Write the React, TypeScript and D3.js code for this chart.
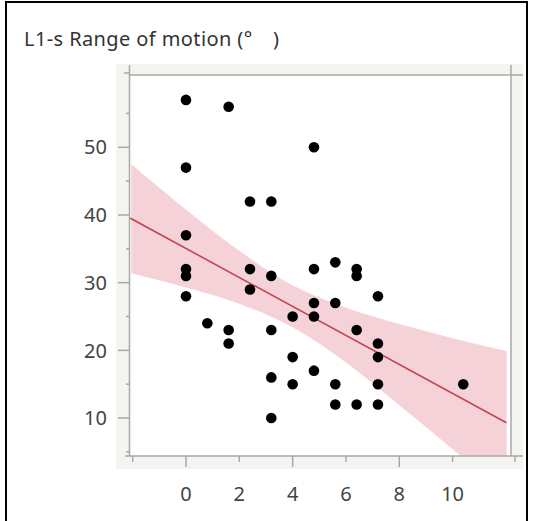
import React from 'react';
import * as d3 from 'd3';

// scatter points, grouped by x value
const xVals = [0, 0, 0, 0, 0, 0, 0.8, 1.6, 1.6, 1.6, 2.4, 2.4, 2.4, 3.2, 3.2, 3.2, 3.2, 3.2, 4.0, 4.0, 4.0, 4.8, 4.8, 4.8, 4.8, 4.8, 5.6, 5.6, 5.6, 5.6, 6.4, 6.4, 6.4, 6.4, 7.2, 7.2, 7.2, 7.2, 7.2, 10.4];
const yVals = [57, 47, 37, 32, 31, 28, 24, 56, 23, 21, 42, 32, 29, 42, 31, 23, 16, 10, 25, 19, 15, 50, 32, 27, 25, 17, 33, 27, 15, 12, 32, 31, 23, 12, 28, 21, 19, 15, 12, 15];

// fitted line and confidence band
const fitX = [-2.1, 12.02];
const fitY = [39.55, 9.3];
const bandX = [-2.05, 0, 2, 4, 6, 8, 10, 12.02];
const bandUpper = [47.5, 40.8, 34.7, 29.6, 26.3, 23.9, 21.8, 19.9];
const bandLower = [31.4, 29.3, 26.9, 23.4, 18.2, 11.9, 5.4, -1.3];

const xTicks = [-2, 0, 2, 4, 6, 8, 10];
const xLabels = [0, 2, 4, 6, 8, 10];
const yTicks = [5, 10, 15, 20, 25, 30, 35, 40, 45, 50, 55];
const yLabels = [10, 20, 30, 40, 50];

const title = 'L1-s Range of motion (°\u3000)';

const W = 535;
const H = 521;
const left = 130, right = 511, top = 75, bottom = 456;
const axisColor = '#a8a8a8';
const font = '"Noto Sans", "Noto Sans CJK JP", sans-serif';

export default function App() {
  const x = d3.scaleLinear().domain([-2.1, 12.19]).range([left, right]);
  const y = d3.scaleLinear().domain([4.39, 60.68]).range([bottom, top]);

  const band = d3.area<number>()
    .x((d, i) => x(bandX[i]))
    .y0((d, i) => y(bandLower[i]))
    .y1((d) => y(d))
    .curve(d3.curveCatmullRom);

  const line = d3.line<number>()
    .x((d, i) => x(fitX[i]))
    .y((d) => y(d));

  return (
    <svg width={W} height={H} style={{ position: 'absolute', left: 0, top: 0 }}>
      <rect x={0} y={0} width={W} height={H} fill="#fff" />
      <rect x={6} y={2} width={521} height={540} fill="none" stroke="#000" strokeWidth={2} />
      <text x={24} y={46} fontFamily={font} fontSize={20} letterSpacing={0.4} fill="#333">{title}</text>

      <defs>
        <clipPath id="plot">
          <rect x={left} y={top} width={right - left} height={bottom - top} />
        </clipPath>
      </defs>

      {/* grey frame behind the axes */}
      <rect x={116} y={64} width={407} height={405} fill="#f4f4f1" />
      <rect x={left} y={top} width={right - left} height={bottom - top} fill="#fff" />

      <g clipPath="url(#plot)">
        <path d={band(bandUpper) || ''} fill="#f4cdd3" opacity={0.9} />
        <path d={line(fitY) || ''} fill="none" stroke="#c2444f" strokeWidth={1.6} />
        {xVals.map((v, i) => (
          <circle key={i} cx={x(v)} cy={y(yVals[i])} r={5.3} fill="#000" />
        ))}
      </g>

      {/* frame lines */}
      <g stroke={axisColor} strokeWidth={1.5}>
        <line x1={left} x2={523} y1={top} y2={top} />
        <line x1={125} x2={523} y1={bottom} y2={bottom} />
        <line x1={left - 0.5} x2={left - 0.5} y1={65} y2={bottom} />
        <line x1={right} x2={right} y1={65} y2={bottom} />
        <line x1={124} x2={left} y1={73} y2={73} />
        <line x1={515} x2={515} y1={bottom} y2={bottom + 6} />
      </g>

      {/* y ticks */}
      <g stroke={axisColor} strokeWidth={1.5}>
        {yTicks.map((t) => (
          <line key={t} x1={t % 10 === 0 ? 118 : 126} x2={left} y1={y(t)} y2={y(t)} />
        ))}
      </g>
      {yLabels.map((t) => (
        <text key={t} x={107} y={y(t)} dy="0.36em" textAnchor="end" fontFamily={font} fontSize={20} fill="#444">{t}</text>
      ))}

      {/* x ticks */}
      <g stroke={axisColor} strokeWidth={1.5}>
        {xTicks.map((t) => (
          <line key={t} x1={x(t)} x2={x(t)} y1={bottom} y2={t % 4 === 0 ? bottom + 11 : bottom + 6} />
        ))}
      </g>
      {xLabels.map((t) => (
        <text key={t} x={x(t)} y={501} textAnchor="middle" fontFamily={font} fontSize={20} fill="#444">{t}</text>
      ))}
    </svg>
  );
}
